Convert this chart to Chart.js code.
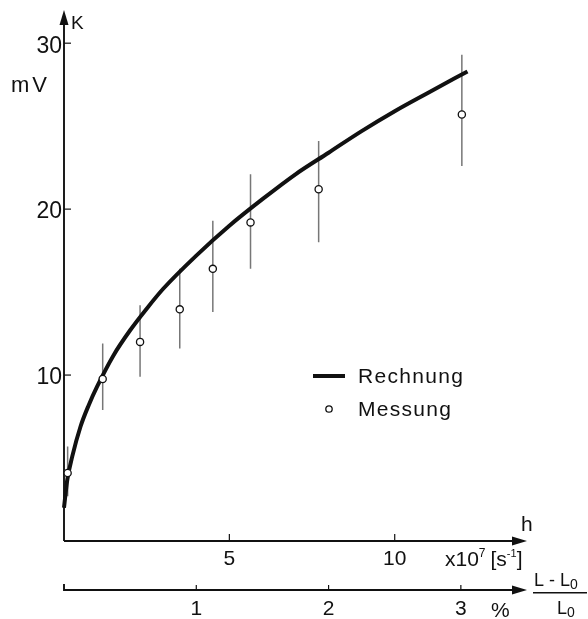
<!DOCTYPE html>
<html>
<head>
<meta charset="utf-8">
<script src="https://cdn.jsdelivr.net/npm/chart.js@4"></script>
<style>
  html, body { margin:0; padding:0; background:#fff; }
  #wrap { width:588px; height:619px; }
</style>
</head>
<body>
<div id="wrap"><canvas id="chart" width="588" height="619"></canvas></div>
<script>
// Messung: h in 10^7 s^-1, K in mV, with error bar ends
const measH  = [0.11, 1.17, 2.3, 3.5, 4.5, 5.64, 7.7, 12.03];
const measK  = [4.1, 9.76, 12.0, 13.96, 16.4, 19.2, 21.2, 25.7];
const measLo = [2.7, 7.9, 9.9, 11.6, 13.8, 16.4, 18.0, 22.6];
const measHi = [5.7, 11.9, 14.2, 16.4, 19.3, 22.1, 24.1, 29.3];

// Rechnung curve
const calcH = [0, 0.05, 0.1, 0.25, 0.5, 0.75, 1, 1.5, 2, 2.5, 3, 4, 5, 6, 7, 8, 9, 10, 11, 12.2];
const calcK = [2.0, 2.9, 3.7, 5.1, 6.9, 8.2, 9.3, 11.2, 12.7, 14.0, 15.2, 17.2, 19.0, 20.6, 22.1, 23.4, 24.7, 25.9, 27.0, 28.3];

// tick labels
const yTicks = [10, 20, 30];
const hTicks = [5, 10];
const pctTicks = [1, 2, 3];

const FONT = '"Liberation Sans", Arial, sans-serif';

const errData = [];
measH.forEach((h, i) => {
  errData.push({x:h, y:measLo[i]}, {x:h, y:measHi[i]}, {x:h, y:null});
});

function arrow(ctx, x, y, dir) {
  ctx.beginPath();
  if (dir === 'up') {
    ctx.moveTo(x, y); ctx.lineTo(x - 4.5, y + 15); ctx.lineTo(x + 4.5, y + 15);
  } else {
    ctx.moveTo(x, y); ctx.lineTo(x - 15, y - 4.5); ctx.lineTo(x - 15, y + 4.5);
  }
  ctx.closePath();
  ctx.fill();
}

const axesPlugin = {
  id: 'axes',
  beforeDatasetsDraw(chart) {
    const {ctx, scales:{x, y, xp}} = chart;
    const x0 = x.getPixelForValue(0), y0 = y.getPixelForValue(0);
    const xEnd = x.getPixelForValue(14), yTop = y.getPixelForValue(32);
    ctx.save();
    ctx.strokeStyle = '#111'; ctx.fillStyle = '#111'; ctx.lineWidth = 1.9;
    // y axis
    ctx.beginPath(); ctx.moveTo(x0, y0); ctx.lineTo(x0, yTop + 10); ctx.stroke();
    arrow(ctx, x0, yTop, 'up');
    // h axis
    ctx.beginPath(); ctx.moveTo(x0, y0); ctx.lineTo(xEnd - 10, y0); ctx.stroke();
    arrow(ctx, xEnd, y0, 'right');
    // % axis
    const yp = 590;
    ctx.beginPath(); ctx.moveTo(x0, yp - 6); ctx.lineTo(x0, yp); ctx.lineTo(xEnd - 10, yp); ctx.stroke();
    arrow(ctx, xEnd, yp, 'right');
    ctx.lineWidth = 1.2;
    yTicks.forEach(v => {
      const py = y.getPixelForValue(v);
      ctx.beginPath(); ctx.moveTo(x0, py); ctx.lineTo(x0 + 7, py); ctx.stroke();
    });
    hTicks.forEach(v => {
      const px = x.getPixelForValue(v);
      ctx.beginPath(); ctx.moveTo(px, y0); ctx.lineTo(px, y0 - 7); ctx.stroke();
    });
    pctTicks.forEach(v => {
      const px = xp.getPixelForValue(v);
      ctx.beginPath(); ctx.moveTo(px, yp); ctx.lineTo(px, yp - 5); ctx.stroke();
    });
    ctx.restore();
  },
  afterDraw(chart) {
    const {ctx, scales:{x, y, xp}} = chart;
    const x0 = x.getPixelForValue(0);
    ctx.save();
    ctx.fillStyle = '#111';
    ctx.textBaseline = 'middle';
    // y tick labels
    ctx.font = '23px ' + FONT; ctx.textAlign = 'right';
    yTicks.forEach(v => ctx.fillText(String(v), x0 - 2, y.getPixelForValue(v) + 3));
    // h tick labels
    ctx.font = '21px ' + FONT; ctx.textAlign = 'center';
    hTicks.forEach(v => ctx.fillText(String(v), x.getPixelForValue(v), 559));
    pctTicks.forEach(v => ctx.fillText(String(v), xp.getPixelForValue(v), 609));
    ctx.textBaseline = 'alphabetic'; ctx.textAlign = 'left';
    // K and mV
    ctx.font = '19px ' + FONT; ctx.fillText('K', 71, 29);
    ctx.font = '22px ' + FONT; ctx.letterSpacing = '3px'; ctx.fillText('mV', 11, 92);
    ctx.letterSpacing = '0px';
    // h
    ctx.font = '21px ' + FONT; ctx.fillText('h', 521, 531);
    // x10^7 [s^-1]
    let cx = 445;
    const part = (t, size, base) => { ctx.font = size + 'px ' + FONT; ctx.fillText(t, cx, base); cx += ctx.measureText(t).width; };
    part('x10', 21, 566); part('7', 12, 557); cx += 5; part('[s', 21, 566); part('-1', 11, 557); part(']', 21, 566);
    // %
    ctx.font = '21px ' + FONT; ctx.fillText('%', 491, 617);
    // fraction (L - L0) / L0
    cx = 534;
    part('L - L', 18, 586); part('0', 14, 589);
    ctx.fillRect(533, 592, 54, 1.5);
    cx = 557;
    part('L', 18, 614); part('0', 14, 617);
    // legend
    ctx.lineWidth = 4; ctx.strokeStyle = '#111';
    ctx.beginPath(); ctx.moveTo(313, 376); ctx.lineTo(345, 376); ctx.stroke();
    ctx.font = '21px ' + FONT; ctx.letterSpacing = '1.3px';
    ctx.fillText('Rechnung', 358, 383);
    ctx.fillText('Messung', 358, 416);
    ctx.letterSpacing = '0px';
    ctx.lineWidth = 1.3; ctx.fillStyle = '#fff';
    ctx.beginPath(); ctx.arc(329, 409, 3.2, 0, Math.PI * 2); ctx.fill(); ctx.stroke();
    ctx.restore();
  }
};

new Chart(document.getElementById('chart').getContext('2d'), {
  type: 'scatter',
  data: {
    datasets: [
      {
        label: 'Messung',
        data: measH.map((h, i) => ({x:h, y:measK[i]})),
        pointRadius: 3.6, pointBackgroundColor: '#fff', pointBorderColor: '#111',
        pointBorderWidth: 1.3, showLine: false, order: 0, clip: false
      },
      {
        label: 'Rechnung',
        data: calcH.map((h, i) => ({x:h, y:calcK[i]})),
        showLine: true, borderColor: '#111', borderWidth: 4, pointRadius: 0,
        cubicInterpolationMode: 'monotone', order: 1, clip: false
      },
      {
        label: 'Fehler',
        data: errData,
        showLine: true, spanGaps: false, borderColor: '#777', borderWidth: 1.5,
        pointRadius: 0, order: 2, clip: false
      }
    ]
  },
  options: {
    responsive: false,
    animation: false,
    layout: { padding: { left: 64, right: 61, top: 10, bottom: 78 } },
    scales: {
      x: { type: 'linear', min: 0, max: 14, display: false },
      xp: { type: 'linear', axis: 'x', position: 'bottom', min: 0, max: 3.5, display: false },
      y: { type: 'linear', min: 0, max: 32, display: false }
    },
    plugins: { legend: { display: false }, tooltip: { enabled: false } }
  },
  plugins: [axesPlugin]
});
</script>
</body>
</html>
